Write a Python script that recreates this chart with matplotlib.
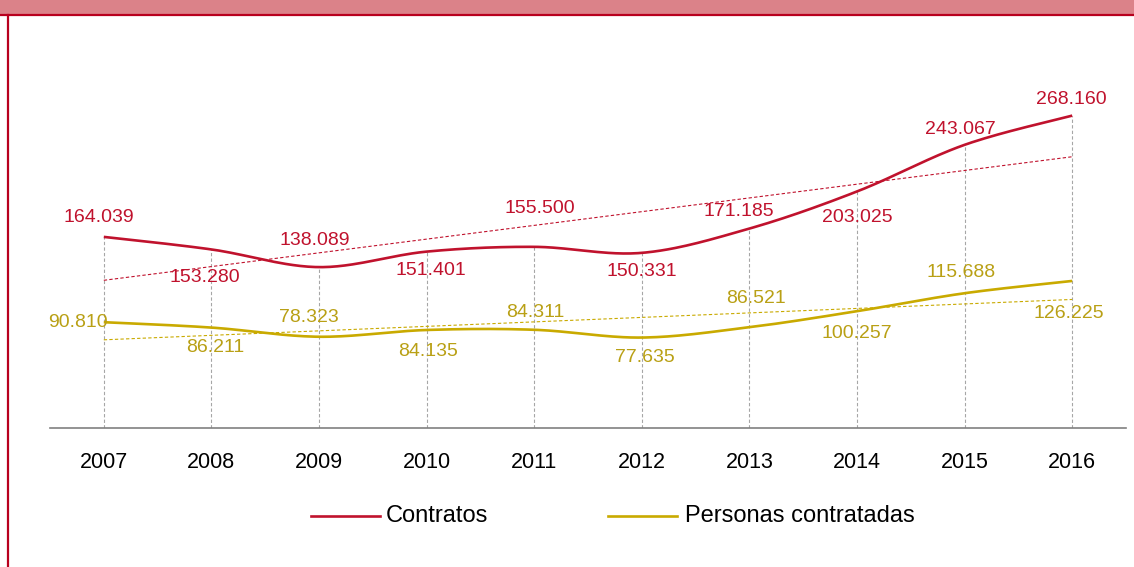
import matplotlib
matplotlib.use("Agg")
import matplotlib.pyplot as plt
import numpy as np
from matplotlib.lines import Line2D
from matplotlib.patches import Rectangle

plt.rcParams["font.family"] = ["Liberation Sans", "DejaVu Sans"]

years = ["2007", "2008", "2009", "2010", "2011", "2012", "2013", "2014", "2015", "2016"]
contratos = [164.039, 153.280, 138.089, 151.401, 155.500, 150.331, 171.185, 203.025, 243.067, 268.160]
personas = [90.810, 86.211, 78.323, 84.135, 84.311, 77.635, 86.521, 100.257, 115.688, 126.225]

RED = "#C0122D"
GOLD = "#C9AA00"
GOLD_TXT = "#B9A015"

# label offsets in pixels (dx, dy downward)
off_con = [(-5, -19), (-7, 28), (-4, -27), (4, 19), (6, -38), (0, 19), (-11, -17), (0, 26), (-4, -15), (-1, -16)]
off_per = [(-26, 0), (4, 20), (-10, -19), (1, 22), (1, -17), (3, 20), (7, -29), (0, 22), (-4, -21), (-3, 33)]


def smooth(y, n=30):
    # Catmull-Rom spline, similar to Excel's smoothed line
    y = np.asarray(y, dtype=float)
    x = np.arange(len(y), dtype=float)
    p = np.column_stack([x, y])
    ext = np.vstack([p[0], p, p[-1]])
    out = []
    t = np.linspace(0, 1, n)[:, None]
    for i in range(len(p) - 1):
        p0, p1, p2, p3 = ext[i], ext[i + 1], ext[i + 2], ext[i + 3]
        c1 = p1 + (p2 - p0) / 6
        c2 = p2 - (p3 - p1) / 6
        seg = ((1 - t) ** 3) * p1 + 3 * ((1 - t) ** 2) * t * c1 + 3 * (1 - t) * t ** 2 * c2 + t ** 3 * p2
        out.append(seg if i == 0 else seg[1:])
    out = np.vstack(out)
    return out[:, 0], out[:, 1]


W, H = 1134, 567
fig = plt.figure(figsize=(W / 100, H / 100), dpi=100)

# header band and border
fig.add_artist(Rectangle((0, 1 - 14 / H), 1, 14 / H, transform=fig.transFigure, color="#DB8289", lw=0))
fig.add_artist(Line2D([0, 1], [1 - 15 / H] * 2, transform=fig.transFigure, color="#B8001E", lw=1.6))
fig.add_artist(Line2D([7.5 / W] * 2, [0, 1 - 15 / H], transform=fig.transFigure, color="#B8001E", lw=1.6))

ax_top = 78.5
ax = fig.add_axes([50 / W, 1 - 428 / H, 1076 / W, (428 - ax_top) / H])
ax.set_xlim(-0.5, 9.5)
ax.set_ylim(0, 300)
x = np.arange(len(years))

# drop lines
for xi, v in zip(x, contratos):
    ax.plot([xi, xi], [0, max(v, personas[xi])], color="#A6A6A6", lw=0.8, ls=(0, (3, 2)), zorder=1)

# trend lines
for ser, col in ((contratos, RED), (personas, GOLD)):
    k, b = np.polyfit(x, ser, 1)
    ax.plot(x, k * x + b, color=col, lw=0.8, ls=(0, (3, 2)), zorder=2)

for ser, col in ((contratos, RED), (personas, GOLD)):
    sx, sy = smooth(ser)
    ax.plot(sx, sy, color=col, lw=1.9, solid_capstyle="butt", zorder=3)

for ser, offs, col in ((contratos, off_con, RED), (personas, off_per, GOLD_TXT)):
    for xi, v, (dx, dy) in zip(x, ser, offs):
        ax.annotate(f"{v:.3f}", (xi, v), xytext=(dx * 0.72, -dy * 0.72), textcoords="offset points",
                    ha="center", va="center", fontsize=14, color=col, zorder=4)

for s in ("top", "right", "left"):
    ax.spines[s].set_visible(False)
ax.spines["bottom"].set_color("#808080")
ax.spines["bottom"].set_linewidth(1.2)
ax.set_yticks([])
ax.set_xticks(x)
ax.set_xticklabels(years, fontsize=15.5)
ax.tick_params(axis="x", length=0, pad=17)

# legend
ly = 1 - 516 / H
fig.add_artist(Line2D([311 / W, 380 / W], [ly, ly], transform=fig.transFigure, color=RED, lw=1.9))
fig.text(386 / W, ly, "Contratos", fontsize=17, va="center", ha="left")
fig.add_artist(Line2D([608 / W, 677 / W], [ly, ly], transform=fig.transFigure, color=GOLD, lw=1.9))
fig.text(685 / W, ly, "Personas contratadas", fontsize=17, va="center", ha="left")

fig.savefig("out.png", dpi=100)
